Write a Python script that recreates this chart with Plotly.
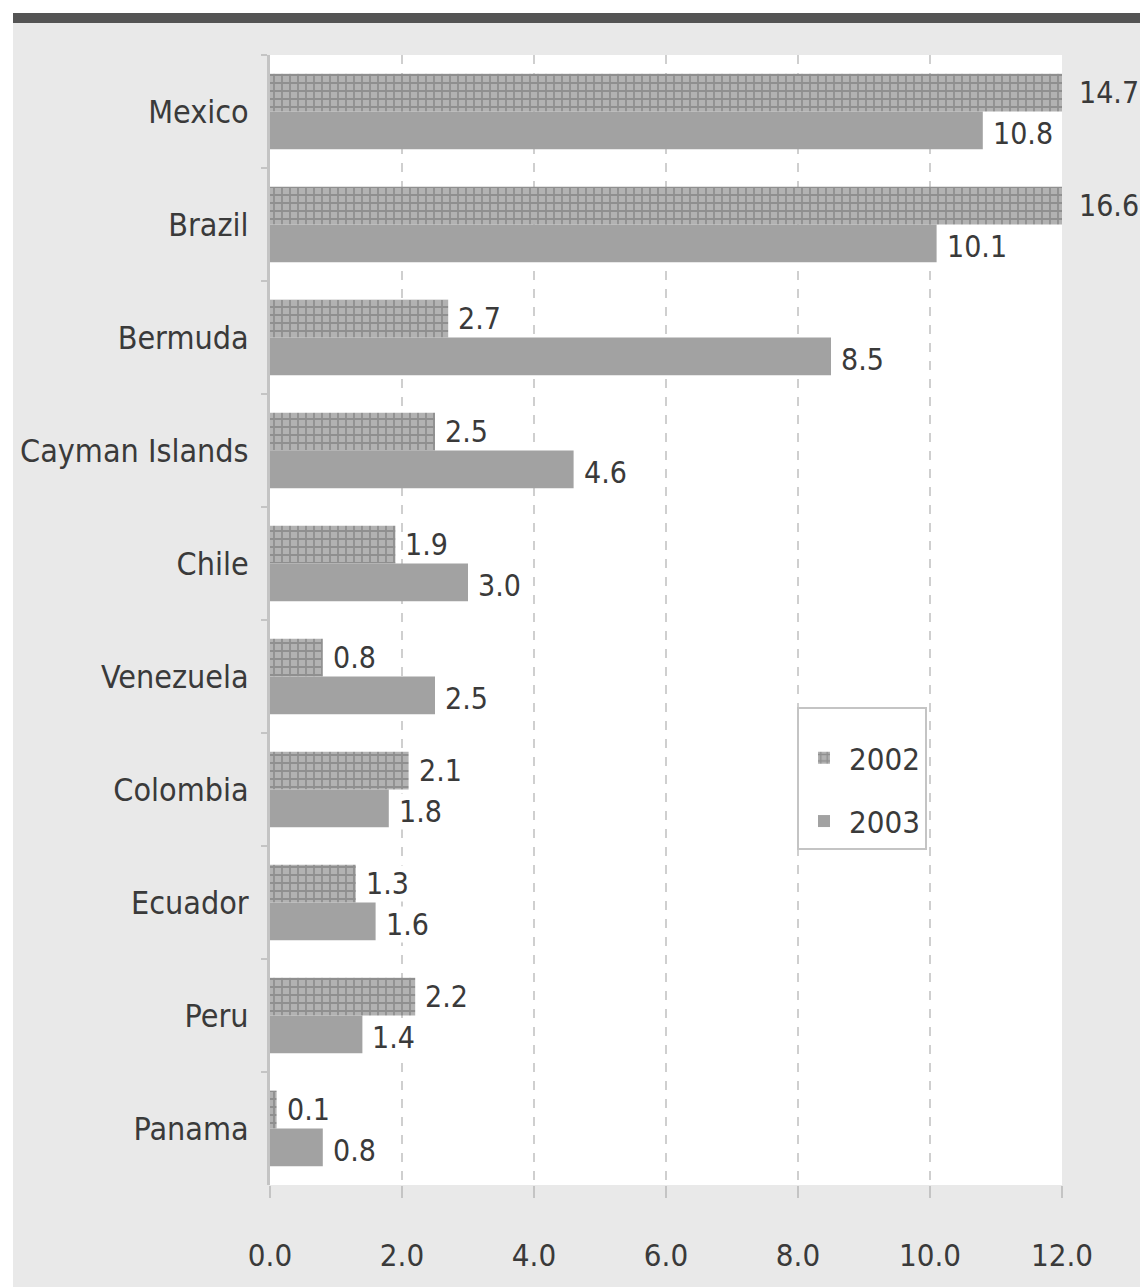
import plotly.graph_objects as go

# ---- data ----
countries = ["Mexico", "Brazil", "Bermuda", "Cayman Islands", "Chile",
             "Venezuela", "Colombia", "Ecuador", "Peru", "Panama"]
v2002 = [14.7, 16.6, 2.7, 2.5, 1.9, 0.8, 2.1, 1.3, 2.2, 0.1]
v2003 = [10.8, 10.1, 8.5, 4.6, 3.0, 2.5, 1.8, 1.6, 1.4, 0.8]
series_names = ["2002", "2003"]
x_ticks = [0, 2, 4, 6, 8, 10, 12]

# ---- layout geometry (page has an 8px body margin) ----
OFF = 8
W, H = 1148 - 2 * OFF, 1287 - OFF
ML, MT = 270 - OFF, 55 - OFF
MR = W - (1062 - OFF)
MB = H - (1185 - OFF)
XMAX = 12
BARGAP = 0.33
FONT = "Liberation Sans Narrow, DejaVu Sans Condensed, sans-serif"
TXT = "#3a3a3a"

fig = go.Figure()
fig.add_trace(go.Bar(
    name=series_names[0], y=countries, x=v2002, orientation="h",
    legendgroup="a",
    marker=dict(color="#b0b0b0", line=dict(width=0),
                pattern=dict(shape="+", fgcolor="#6c6c6c", bgcolor="#b2b2b2",
                             size=8, solidity=0.4)),
))
fig.add_trace(go.Bar(
    name=series_names[1], y=countries, x=v2003, orientation="h",
    legendgroup="b",
    marker=dict(color="#a2a2a2", line=dict(width=0)),
))

# value labels
plot_h = H - MT - MB
pw = W - ML - MR
cat_px = plot_h / len(countries)
bar_px = cat_px * (1 - BARGAP) / 2
for vals, sgn in ((v2002, 1), (v2003, -1)):
    for c, v in zip(countries, vals):
        clipped = v > XMAX
        fig.add_annotation(
            x=min(v, XMAX), y=c, xref="x", yref="y",
            text=f"{v:.1f}", showarrow=False,
            xanchor="left", yanchor="middle",
            xshift=16 if clipped else 9,
            yshift=sgn * bar_px / 2 - (3 if sgn < 0 else 0),
            font=dict(family=FONT, size=30, color=TXT),
            bgcolor="rgba(0,0,0,0)" if clipped else "white",
            borderpad=0,
        )

# frame decorations (paper coords, given in screen pixels)
def px_x(px):
    return (px - OFF - ML) / pw
def px_y(py):
    return (H - MB - (py - OFF)) / plot_h

fig.add_shape(type="rect", xref="paper", yref="paper",
              x0=px_x(0), x1=px_x(1160), y0=px_y(13), y1=px_y(0),
              fillcolor="white", line=dict(width=0), layer="below")
fig.add_shape(type="rect", xref="paper", yref="paper",
              x0=px_x(0), x1=px_x(13), y0=px_y(1300), y1=px_y(0),
              fillcolor="white", line=dict(width=0), layer="below")
fig.add_shape(type="rect", xref="paper", yref="paper",
              x0=px_x(13), x1=px_x(1160), y0=px_y(23), y1=px_y(13),
              fillcolor="#545454", line=dict(width=0), layer="below")

fig.update_layout(
    width=W, height=H,
    margin=dict(l=ML, r=MR, t=MT, b=MB, pad=0),
    paper_bgcolor="#e9e9e9", plot_bgcolor="white",
    barmode="group", bargap=BARGAP, bargroupgap=0,
    font=dict(family=FONT, size=32, color=TXT),
    showlegend=True,
    legend=dict(
        x=px_x(797), y=px_y(707), xanchor="left", yanchor="top",
        bgcolor="white", bordercolor="#c4c4c4", borderwidth=2,
        font=dict(family=FONT, size=31, color=TXT),
        title=dict(text=" ", font=dict(size=17)),
        traceorder="grouped", tracegroupgap=20,
        itemwidth=40,
    ),
    xaxis=dict(
        range=[0, XMAX], tickvals=x_ticks, tickformat=".1f",
        showgrid=True, gridcolor="#cfcfcf", griddash="dash", gridwidth=2,
        zeroline=False, showline=False,
        ticks="outside", ticklen=12, tickwidth=2, tickcolor="#c4c4c4",
        ticklabelstandoff=31,
        tickfont=dict(family=FONT, size=31, color=TXT),
        fixedrange=True,
    ),
    yaxis=dict(
        autorange="reversed", categoryorder="array", categoryarray=countries,
        showline=True, linecolor="#c4c4c4", linewidth=3,
        ticks="outside", tickson="boundaries", ticklen=6, tickwidth=2,
        tickcolor="#c4c4c4", showgrid=False,
        ticklabelstandoff=12,
        tickfont=dict(family=FONT, size=32, color=TXT),
    ),
)

fig.write_html("out.html")
